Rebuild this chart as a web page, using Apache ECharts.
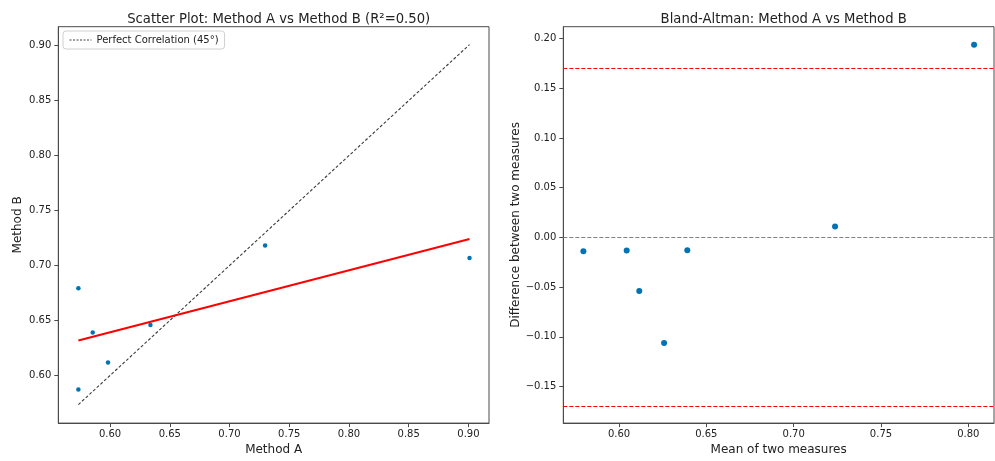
<!DOCTYPE html>
<html>
<head>
<meta charset="utf-8">
<script src="https://cdn.jsdelivr.net/npm/echarts@6/dist/echarts.min.js"></script>
<style>
html,body{margin:0;padding:0;background:#fff;}
#main{width:995px;height:461px;}
</style>
</head>
<body>
<div id="main"></div>
<script>
// ---- Data ----
// Scatter plot: Method A (x) vs Method B (y)
var methodA = [0.5735, 0.5735, 0.5855, 0.5983, 0.6338, 0.7298, 0.9009];
var methodB = [0.6794, 0.5872, 0.6391, 0.6118, 0.6459, 0.7182, 0.7069];
// Regression fit line endpoints (x, y)
var fitX = [0.5735, 0.9009];
var fitY = [0.6318, 0.7241];
// Perfect correlation (45°) line endpoints
var perfX = [0.5735, 0.9009];
var perfY = [0.5735, 0.9009];
// Bland-Altman: mean of two measures (x) vs difference (y)
var baMean = [0.5796, 0.6044, 0.6116, 0.6258, 0.6391, 0.7237, 0.8033];
var baDiff = [-0.0138, -0.0131, -0.0539, -0.1064, -0.0128, 0.0111, 0.1940];
var baMeanLine = 0.001;
var baUpper = 0.1704;
var baLower = -0.1688;
// Tick values
var leftXTicks = [0.60, 0.65, 0.70, 0.75, 0.80, 0.85, 0.90];
var leftYTicks = [0.60, 0.65, 0.70, 0.75, 0.80, 0.85, 0.90];
var rightXTicks = [0.60, 0.65, 0.70, 0.75, 0.80];
var rightYTicks = [-0.15, -0.10, -0.05, 0.00, 0.05, 0.10, 0.15, 0.20];
// Axis extents
var leftRange = [0.5567, 0.9172];
var rightXRange = [0.5681, 0.8147];
var rightYRange = [-0.1869, 0.2121];

function pairs(xs, ys){ var o=[]; for (var i=0;i<xs.length;i++) o.push([xs[i], ys[i]]); return o; }
function fmt(v){ var s = Math.abs(v).toFixed(2); return (v < -1e-9 ? '\u2212' : '') + s; }

var FONT = 'DejaVu Sans';
var TXT = '#222';
var SPINE = '#4a4a4a';

function valAxis(gi, range, ticks, name, nameGap, isY){
  return {
    type: 'value', gridIndex: gi, min: range[0], max: range[1],
    name: name, nameLocation: 'middle', nameGap: nameGap,
    nameTextStyle: {fontFamily: FONT, fontSize: 12, color: TXT},
    axisLine: {show: true, onZero: false, lineStyle: {color: SPINE, width: 1}},
    axisTick: {show: true, inside: false, length: 4, customValues: ticks, lineStyle: {color: SPINE, width: 1}},
    axisLabel: {show: true, customValues: ticks, formatter: fmt, fontFamily: FONT, fontSize: 10, color: TXT, margin: isY ? 7 : 6},
    splitLine: {show: false}
  };
}

var chart = echarts.init(document.getElementById('main'), null, {renderer: 'canvas'});
var option = {
  animation: false,
  backgroundColor: '#fff',
  title: [
    {text: 'Scatter Plot: Method A vs Method B (R\u00b2=0.50)', left: 273.7, top: 8, textAlign: 'center',
     textStyle: {fontFamily: FONT, fontSize: 13.2, fontWeight: 'normal', color: TXT}},
    {text: 'Bland-Altman: Method A vs Method B', left: 778.7, top: 8, textAlign: 'center',
     textStyle: {fontFamily: FONT, fontSize: 13.2, fontWeight: 'normal', color: TXT}}
  ],
  legend: {
    data: ['Perfect Correlation (45\u00b0)'],
    left: 63, top: 31, orient: 'vertical',
    itemWidth: 22, itemHeight: 8, itemGap: 6,
    padding: [4, 6, 4, 6],
    borderColor: '#d0d0d0', borderWidth: 1, borderRadius: 3, backgroundColor: '#fff',
    itemStyle: {opacity: 0},
    lineStyle: {color: '#404040', width: 1, type: [2, 1.5]},
    textStyle: {fontFamily: FONT, fontSize: 10, color: TXT}
  },
  grid: [
    {left: 58.3, top: 26.7, width: 430.7, height: 405, show: true, borderColor: SPINE, borderWidth: 1, backgroundColor: 'transparent'},
    {left: 563.3, top: 26.7, width: 430.7, height: 405, show: true, borderColor: SPINE, borderWidth: 1, backgroundColor: 'transparent'}
  ],
  xAxis: [
    valAxis(0, leftRange, leftXTicks, 'Method A', 15, false),
    valAxis(1, rightXRange, rightXTicks, 'Mean of two measures', 15, false)
  ],
  yAxis: [
    valAxis(0, leftRange, leftYTicks, 'Method B', 34, true),
    valAxis(1, rightYRange, rightYTicks, 'Difference between two measures', 41, true)
  ],
  series: [
    {
      name: 'Perfect Correlation (45\u00b0)', type: 'line', xAxisIndex: 0, yAxisIndex: 0,
      data: pairs(perfX, perfY), symbol: 'none', showSymbol: false, silent: true,
      lineStyle: {color: '#3a3a3a', width: 1.1, type: [3, 2]}, itemStyle: {color: '#3a3a3a'}, z: 2
    },
    {
      name: 'Fit', type: 'line', xAxisIndex: 0, yAxisIndex: 0,
      data: pairs(fitX, fitY), symbol: 'none', silent: true,
      lineStyle: {color: '#ff0000', width: 2}, z: 3
    },
    {
      name: 'Data', type: 'scatter', xAxisIndex: 0, yAxisIndex: 0,
      data: pairs(methodA, methodB), symbolSize: 4.5,
      itemStyle: {color: '#0173b2', opacity: 1}, z: 4
    },
    {
      name: 'BA', type: 'scatter', xAxisIndex: 1, yAxisIndex: 1,
      data: pairs(baMean, baDiff), symbolSize: 6,
      itemStyle: {color: '#0173b2', opacity: 1}, z: 4,
      markLine: {
        silent: true, symbol: 'none', label: {show: false}, animation: false,
        data: [
          {yAxis: baMeanLine, lineStyle: {color: '#808080', width: 1.2, type: [4, 2]}},
          {yAxis: baUpper, lineStyle: {color: '#ff0000', width: 1.2, type: [4, 2]}},
          {yAxis: baLower, lineStyle: {color: '#ff0000', width: 1.2, type: [4, 2]}}
        ]
      }
    }
  ]
};
chart.setOption(option);
</script>
</body>
</html>
